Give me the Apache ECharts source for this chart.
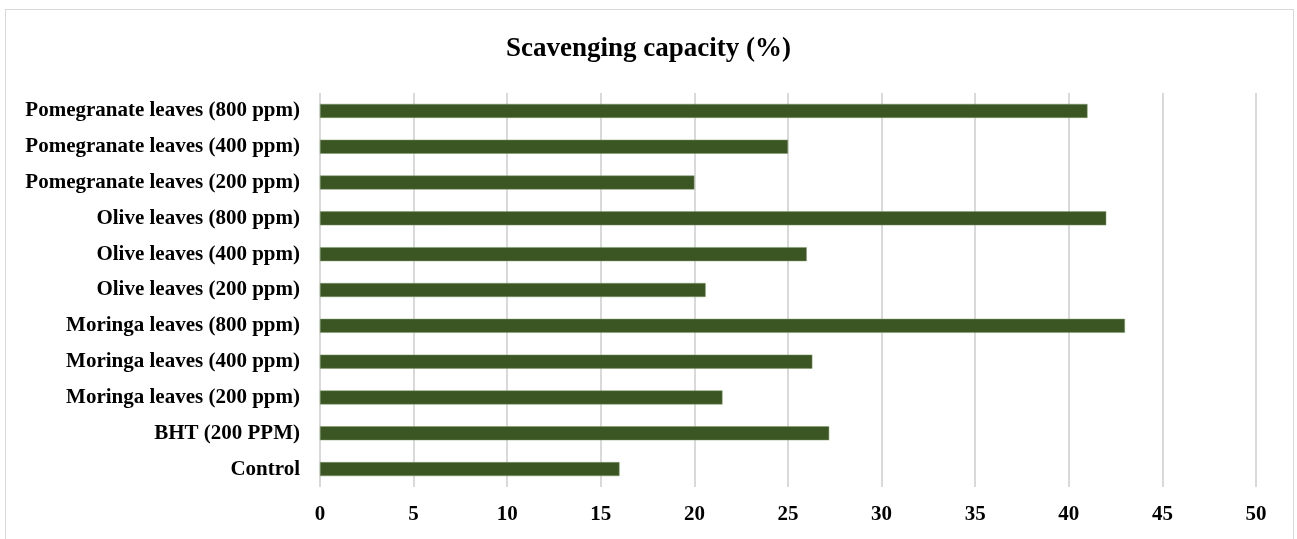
<!DOCTYPE html>
<html>
<head>
<meta charset="utf-8">
<script src="https://cdn.jsdelivr.net/npm/echarts@6/dist/echarts.min.js"></script>
<style>
  html, body { margin: 0; padding: 0; background: #ffffff; }
  #frame {
    position: absolute; left: 5px; top: 9px; width: 1289px; height: 540px;
    border: 1px solid #d9d9d9; border-bottom: none; box-sizing: border-box;
  }
  #chart { position: absolute; left: 0; top: 0; width: 1297px; height: 539px; }
</style>
</head>
<body>
<div id="frame"></div>
<div id="chart"></div>
<script>
// Treatments, listed bottom to top as drawn on the category axis
const categories = [
  'Control',
  'BHT (200 PPM)',
  'Moringa leaves (200 ppm)',
  'Moringa leaves (400 ppm)',
  'Moringa leaves (800 ppm)',
  'Olive leaves (200 ppm)',
  'Olive leaves (400 ppm)',
  'Olive leaves (800 ppm)',
  'Pomegranate leaves (200 ppm)',
  'Pomegranate leaves (400 ppm)',
  'Pomegranate leaves (800 ppm)'
];

// Scavenging capacity (%) per treatment
const scavenging = [16.0, 27.2, 21.5, 26.3, 43.0, 20.6, 26.0, 42.0, 20.0, 25.0, 41.0];

// Value axis range and step
const axisMin = 0;
const axisMax = 50;
const axisStep = 5;

const serif = '"Liberation Serif", "Times New Roman", serif';

const chart = echarts.init(document.getElementById('chart'), null, { renderer: 'canvas' });

chart.setOption({
  animation: false,
  backgroundColor: 'transparent',
  title: {
    text: 'Scavenging capacity (%)',
    left: 'center',
    top: 31,
    textStyle: { fontFamily: serif, fontWeight: 'bold', fontSize: 27, color: '#000000' }
  },
  grid: { left: 320, right: 41, top: 93, bottom: 52, containLabel: false },
  xAxis: {
    type: 'value',
    min: axisMin,
    max: axisMax,
    interval: axisStep,
    axisLine: { show: false },
    axisTick: { show: false },
    splitLine: { show: true, lineStyle: { color: '#d9d9d9', width: 2 } },
    axisLabel: {
      margin: 17,
      fontFamily: serif, fontWeight: 'bold', fontSize: 21, color: '#000000'
    }
  },
  yAxis: {
    type: 'category',
    data: categories,
    axisLine: { show: false },
    axisTick: { show: false },
    axisLabel: {
      margin: 20,
      fontFamily: serif, fontWeight: 'bold', fontSize: 21, color: '#000000'
    }
  },
  series: [{
    type: 'bar',
    data: scavenging,
    barWidth: 14,
    itemStyle: { color: '#3b5623', borderColor: '#7f9a6a', borderWidth: 0.5 }
  }]
});
</script>
</body>
</html>
